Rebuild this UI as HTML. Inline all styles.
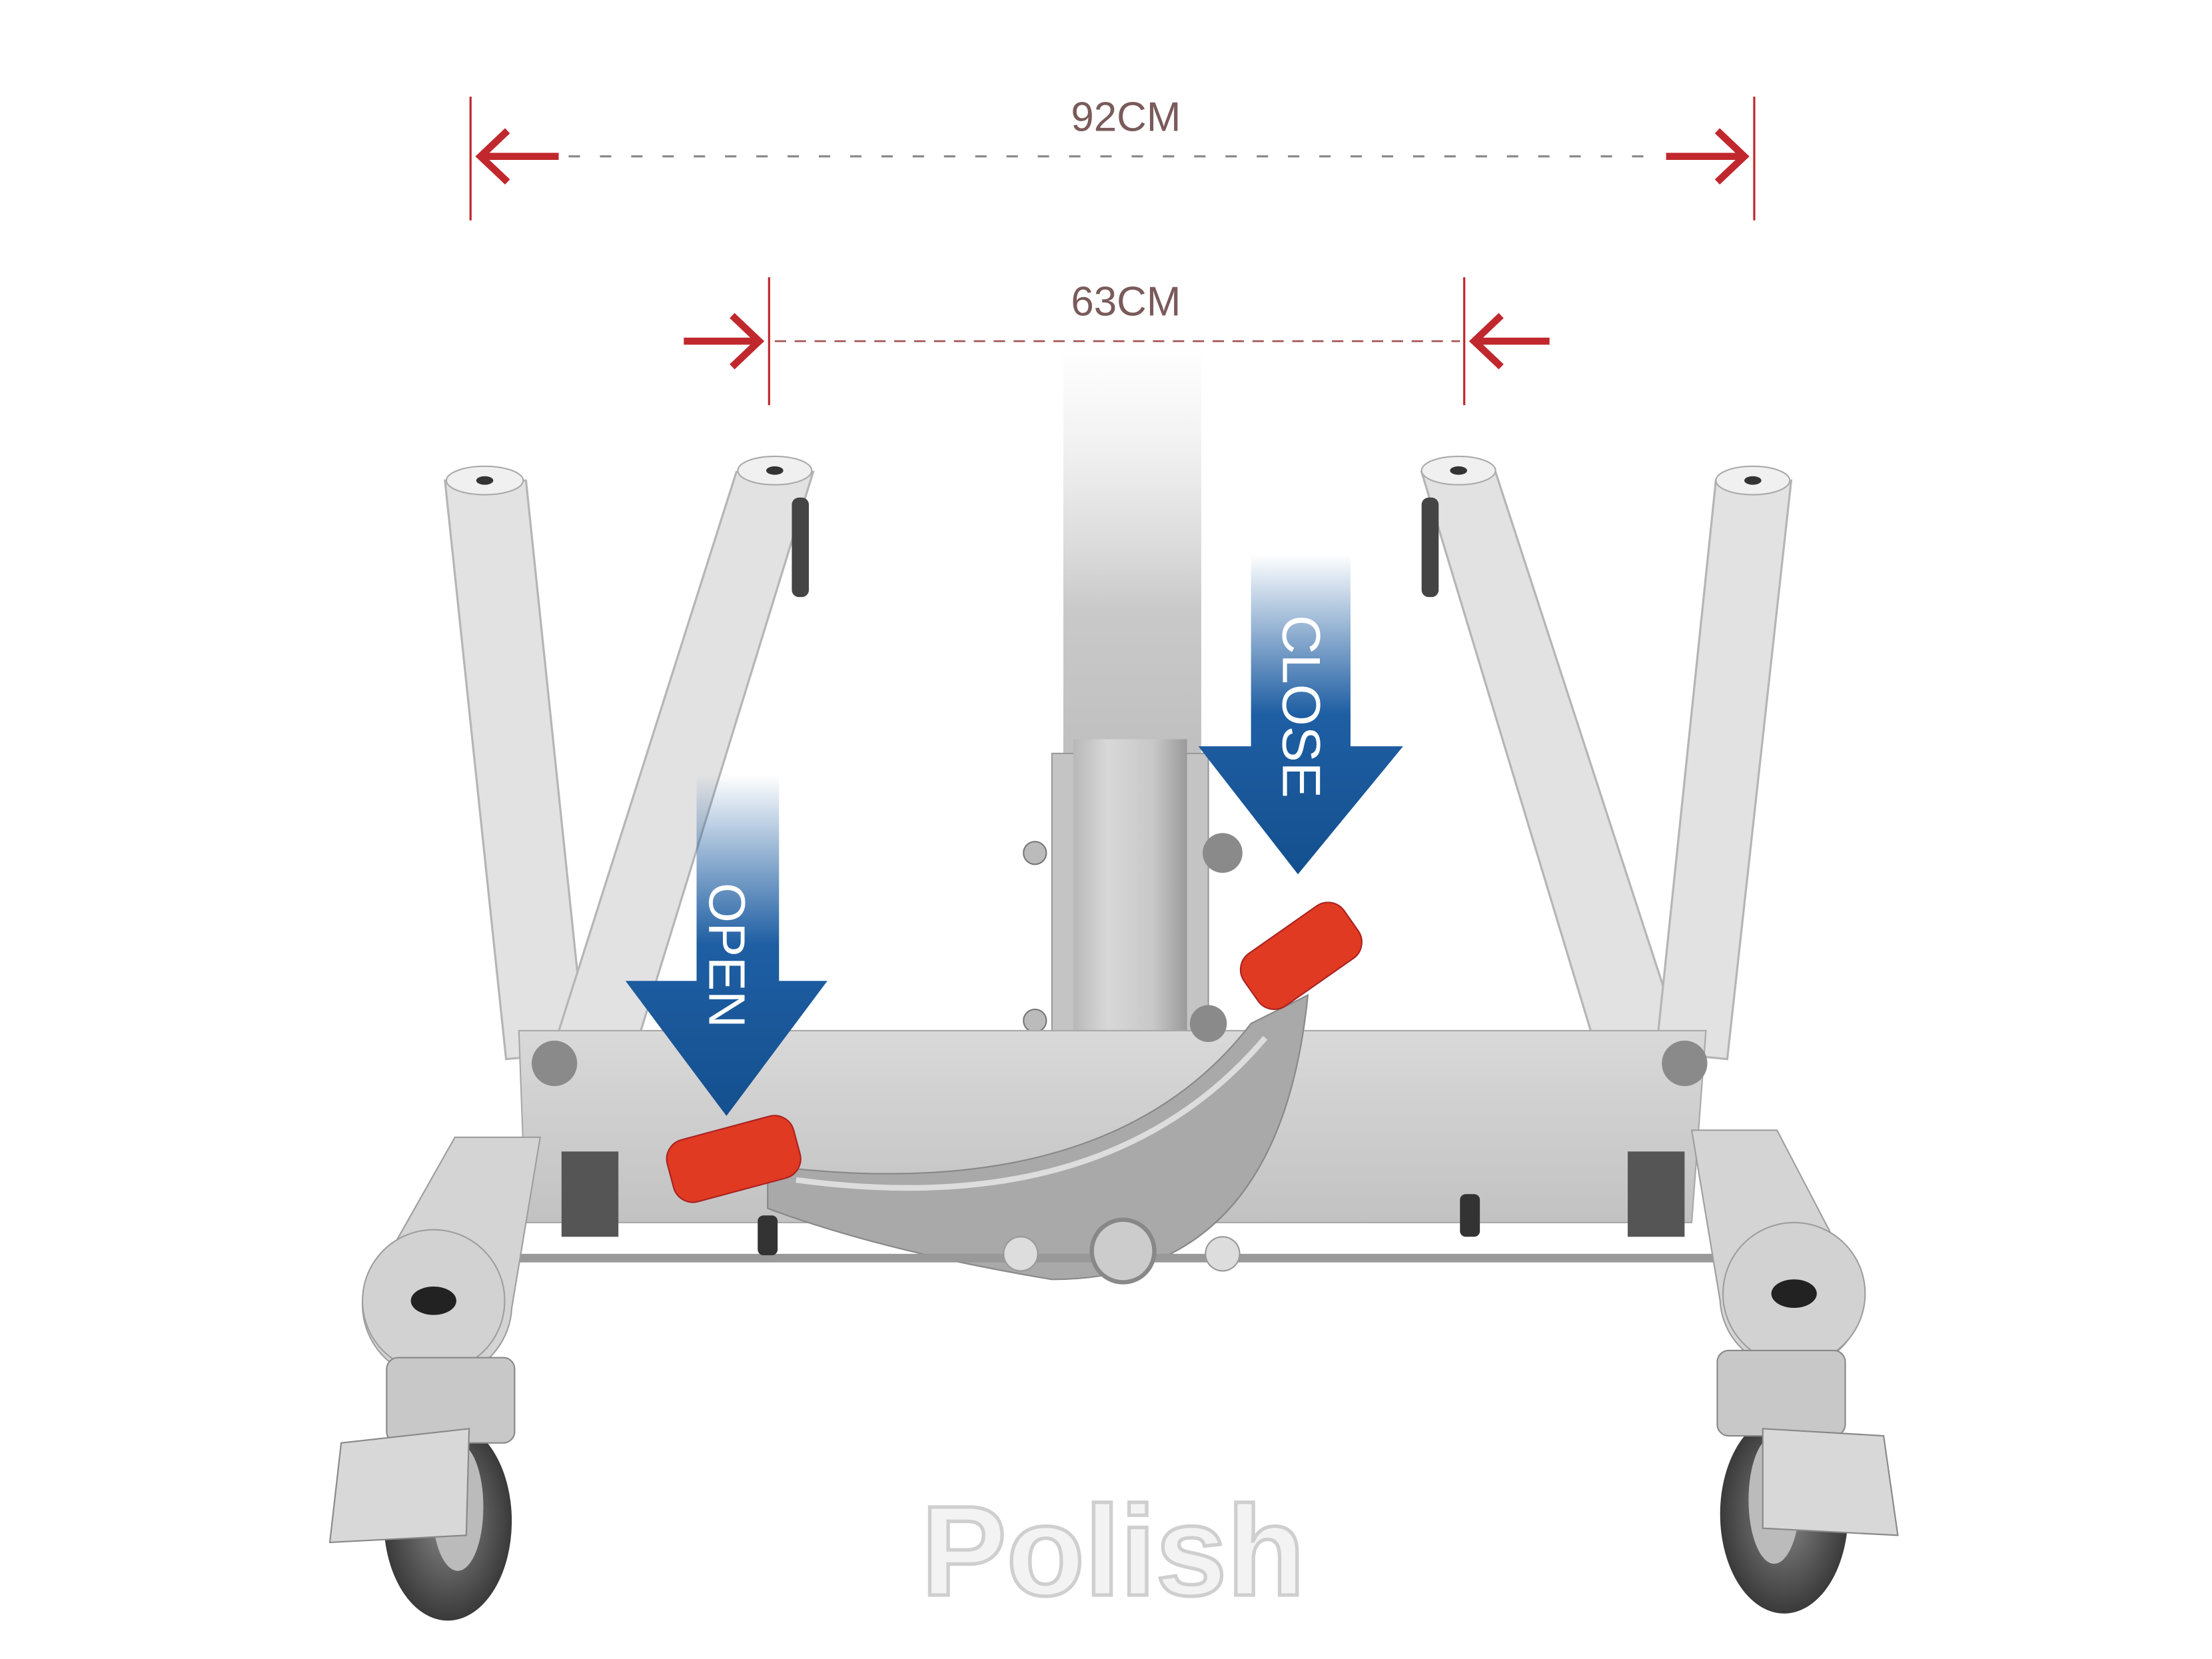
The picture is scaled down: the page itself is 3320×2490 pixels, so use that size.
<!DOCTYPE html>
<html><head><meta charset="utf-8"><style>
html,body{margin:0;padding:0;background:#fff;}
svg{display:block;}
</style></head><body>
<svg width="3320" height="2490" viewBox="0 0 1556 1167" xmlns="http://www.w3.org/2000/svg" font-family="Liberation Sans, sans-serif">
<defs>
<linearGradient id="mast" x1="0" y1="0" x2="0" y2="1">
<stop offset="0" stop-color="#e6e6e6" stop-opacity="0"/>
<stop offset="0.35" stop-color="#c9c9c9"/>
<stop offset="1" stop-color="#a8a8a8"/>
</linearGradient>
<linearGradient id="mastH" x1="0" y1="0" x2="1" y2="0">
<stop offset="0" stop-color="#b8b8b8"/><stop offset="0.3" stop-color="#d8d8d8"/><stop offset="0.7" stop-color="#c8c8c8"/><stop offset="1" stop-color="#9a9a9a"/>
</linearGradient>
<linearGradient id="blueO" x1="0" y1="0" x2="0" y2="1">
<stop offset="0" stop-color="#1a5a9e" stop-opacity="0"/>
<stop offset="0.5" stop-color="#1e5ea3"/>
<stop offset="1" stop-color="#14508f"/>
</linearGradient>
<linearGradient id="base" x1="0" y1="0" x2="0" y2="1">
<stop offset="0" stop-color="#d9d9d9"/><stop offset="1" stop-color="#c2c2c2"/>
</linearGradient>
<radialGradient id="wheel"><stop offset="0" stop-color="#888"/><stop offset="1" stop-color="#3a3a3a"/></radialGradient>
</defs>
<rect width="1556" height="1167" fill="#fff"/>

<g stroke="#c0282d" fill="none">
<line x1="331" y1="68" x2="331" y2="155" stroke-width="1.5"/>
<line x1="1234" y1="68" x2="1234" y2="155" stroke-width="1.5"/>
<path d="M357 92 L338 110 L357 128 M338 110 L393 110" stroke-width="5"/>
<path d="M1208 92 L1227 110 L1208 128 M1227 110 L1172 110" stroke-width="5"/>
<line x1="541" y1="195" x2="541" y2="285" stroke-width="1.5"/>
<line x1="1030" y1="195" x2="1030" y2="285" stroke-width="1.5"/>
<path d="M515 222 L534 240 L515 258 M534 240 L481 240" stroke-width="5"/>
<path d="M1056 222 L1037 240 L1056 258 M1037 240 L1090 240" stroke-width="5"/>
</g>
<line x1="400" y1="110" x2="1165" y2="110" stroke="#888" stroke-width="1.5" stroke-dasharray="8 14"/>
<line x1="545" y1="240" x2="1027" y2="240" stroke="#a05050" stroke-width="1.2" stroke-dasharray="8 6"/>
<text x="792" y="92" font-size="29" fill="#7a5a5a" text-anchor="middle">92CM</text>
<text x="792" y="222" font-size="29" fill="#7a5a5a" text-anchor="middle">63CM</text>

<g fill="#e2e2e2" stroke="#b5b5b5" stroke-width="1.5">
<polygon points="313,338 370,338 412,740 356,745"/>
<polygon points="518,332 572,332 440,760 382,760"/>
<polygon points="1000,332 1052,332 1185,740 1125,745"/>
<polygon points="1207,338 1260,338 1215,745 1165,740"/>
</g>
<g fill="#f0f0f0" stroke="#aaa"><ellipse cx="341" cy="338" rx="27" ry="10"/><ellipse cx="545" cy="331" rx="26" ry="10"/><ellipse cx="1026" cy="331" rx="26" ry="10"/><ellipse cx="1233" cy="338" rx="26" ry="10"/></g>
<g fill="#333"><ellipse cx="341" cy="338" rx="6" ry="3"/><ellipse cx="545" cy="331" rx="6" ry="3"/><ellipse cx="1026" cy="331" rx="6" ry="3"/><ellipse cx="1233" cy="338" rx="6" ry="3"/></g>
<rect x="557" y="350" width="12" height="70" rx="5" fill="#444"/>
<rect x="1000" y="350" width="12" height="70" rx="5" fill="#444"/>

<rect x="748" y="240" width="97" height="540" fill="url(#mast)"/>
<rect x="740" y="530" width="110" height="280" fill="#c4c4c4" stroke="#999"/>
<rect x="755" y="520" width="80" height="250" fill="url(#mastH)"/>
<circle cx="728" cy="600" r="8" fill="#bbb" stroke="#777"/><circle cx="728" cy="718" r="8" fill="#bbb" stroke="#777"/>

<polygon points="365,725 1200,725 1190,860 370,860" fill="url(#base)" stroke="#a8a8a8"/>
<path d="M540 820 Q 780 850 880 720 L 920 700 Q 900 900 740 900 Q 620 880 540 850 Z" fill="#a9a9a9" stroke="#888"/>
<path d="M560 830 Q 780 860 890 730" stroke="#ddd" stroke-width="4" fill="none"/>
<line x1="360" y1="885" x2="1220" y2="885" stroke="#999" stroke-width="6"/>
<g fill="#8a8a8a"><circle cx="390" cy="748" r="16"/><circle cx="1185" cy="748" r="16"/><circle cx="860" cy="600" r="14"/><circle cx="850" cy="720" r="13"/></g>
<circle cx="790" cy="880" r="22" fill="#ccc" stroke="#888" stroke-width="3"/>
<circle cx="718" cy="882" r="12" fill="#ddd" stroke="#999"/><circle cx="860" cy="882" r="12" fill="#ddd" stroke="#999"/>
<rect x="395" y="810" width="40" height="60" fill="#555"/>
<rect x="1145" y="810" width="40" height="60" fill="#555"/>
<rect x="533" y="855" width="14" height="28" rx="4" fill="#333"/>
<rect x="1027" y="840" width="14" height="30" rx="4" fill="#333"/>

<path d="M320 800 L380 800 L360 920 A50 50 0 0 1 255 915 Z" fill="#d4d4d4" stroke="#9e9e9e"/>
<circle cx="305" cy="915" r="50" fill="#d2d2d2" stroke="#9e9e9e"/>
<ellipse cx="305" cy="915" rx="16" ry="10" fill="#222"/>
<path d="M1190 795 L1250 795 L1310 910 A50 50 0 0 1 1210 915 Z" fill="#d4d4d4" stroke="#9e9e9e"/>
<circle cx="1262" cy="910" r="50" fill="#d2d2d2" stroke="#9e9e9e"/>
<ellipse cx="1262" cy="910" rx="16" ry="10" fill="#222"/>

<ellipse cx="315" cy="1070" rx="45" ry="70" fill="url(#wheel)"/>
<ellipse cx="322" cy="1060" rx="18" ry="45" fill="#bbb"/>
<rect x="272" y="955" width="90" height="60" rx="8" fill="#c8c8c8" stroke="#888"/>
<path d="M240 1015 L330 1005 L328 1080 L232 1085 Z" fill="#d8d8d8" stroke="#888"/>
<ellipse cx="1255" cy="1065" rx="45" ry="70" fill="url(#wheel)"/>
<ellipse cx="1248" cy="1055" rx="18" ry="45" fill="#bbb"/>
<rect x="1208" y="950" width="90" height="60" rx="8" fill="#c8c8c8" stroke="#888"/>
<path d="M1240 1005 L1325 1010 L1335 1080 L1240 1075 Z" fill="#d8d8d8" stroke="#888"/>

<g transform="rotate(-15 515 815)"><rect x="470" y="793" width="92" height="45" rx="14" fill="#e03a22" stroke="#a22"/></g>
<g transform="rotate(-35 915 672)"><rect x="872" y="650" width="86" height="45" rx="14" fill="#e03a22" stroke="#a22"/></g>

<polygon points="490,545 548,545 548,690 582,690 511,785 440,690 490,690" fill="url(#blueO)"/>
<polygon points="880,390 950,390 950,525 987,525 913,615 843,525 880,525" fill="url(#blueO)"/>
<text transform="translate(511 672) rotate(90)" font-size="36" fill="#fff" text-anchor="middle" dominant-baseline="central">OPEN</text>
<text transform="translate(915 497) rotate(90)" font-size="38" fill="#fff" text-anchor="middle" dominant-baseline="central">CLOSE</text>

<text x="783" y="1122" font-size="90" font-weight="bold" fill="#f3f3f3" stroke="#cfcfcf" stroke-width="2.5" text-anchor="middle">Polish</text>
</svg>
</body></html>
